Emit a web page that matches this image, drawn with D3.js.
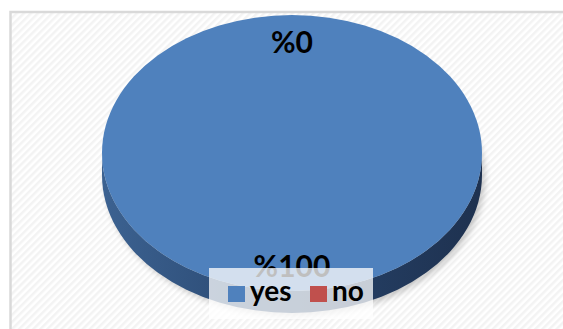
<!DOCTYPE html>
<html>
<head>
<meta charset="utf-8">
<script src="https://cdn.jsdelivr.net/npm/d3@7"></script>
<style>
  html, body { margin: 0; padding: 0; background: #fff; }
  svg { display: block; }
</style>
</head>
<body>
<svg id="chart" width="563" height="329"></svg>
<script>
var categories = ["yes", "no"],
    values = [100, 0],
    labels = ["%100", "%0"],
    colors = ["#4f81bd", "#c0504d"];

var svg = d3.select("#chart"),
    cx = 292, cy = 153,
    rx = 190, ry = 138,
    depth = 22;

// background pattern (diagonal stripes)
var defs = svg.append("defs");
var pat = defs.append("pattern")
    .attr("id", "stripes")
    .attr("width", 5).attr("height", 5)
    .attr("patternUnits", "userSpaceOnUse")
    .attr("patternTransform", "rotate(45)");
pat.append("rect").attr("width", 5).attr("height", 5).attr("fill", "#ffffff");
pat.append("rect").attr("width", 2.5).attr("height", 5).attr("fill", "#f3f3f3");

var sideGrad = defs.append("linearGradient").attr("id", "side")
    .attr("x1", "0").attr("x2", "1").attr("y1", "0").attr("y2", "0");
sideGrad.append("stop").attr("offset", "0").attr("stop-color", "#3c6291");
sideGrad.append("stop").attr("offset", "0.5").attr("stop-color", "#27446c");
sideGrad.append("stop").attr("offset", "1").attr("stop-color", "#1e314f");

defs.append("filter").attr("id", "blur")
    .attr("x", "-20%").attr("y", "-20%").attr("width", "140%").attr("height", "140%")
  .append("feGaussianBlur").attr("stdDeviation", 3);

// chart frame
svg.append("rect")
    .attr("x", 10.5).attr("y", 12)
    .attr("width", 570).attr("height", 330)
    .attr("fill", "url(#stripes)")
    .attr("stroke", "#d9d9d9").attr("stroke-width", 2.5);

// soft shadow under the pie
svg.append("ellipse")
    .attr("cx", cx + 3).attr("cy", cy + depth + 3)
    .attr("rx", rx).attr("ry", ry)
    .attr("fill", "#000").attr("opacity", 0.2)
    .attr("filter", "url(#blur)");

// side of the 3d pie
var p = d3.path();
p.moveTo(cx - rx, cy);
p.lineTo(cx - rx, cy + depth);
var side = p.toString() +
    "A" + rx + "," + ry + " 0 0 0 " + (cx + rx) + "," + (cy + depth) +
    "L" + (cx + rx) + "," + cy +
    "A" + rx + "," + ry + " 0 0 1 " + (cx - rx) + "," + cy + "Z";
svg.append("path").attr("d", side).attr("fill", "url(#side)");

// top face
var pie = d3.pie().sort(null).value(function(d){ return d; });
var arcs = pie(values);
var arc = d3.arc().innerRadius(0).outerRadius(rx);
var labelArc = d3.arc().innerRadius(rx * 0.81).outerRadius(rx * 0.81);

var face = svg.append("g")
    .attr("transform", "translate(" + cx + "," + cy + ") scale(1," + (ry / rx) + ")");
face.selectAll("path")
    .data(arcs)
    .enter()
    .append("path")
    .attr("d", arc)
    .attr("fill", function(d, i){ return colors[i]; });

// data labels
svg.append("g").selectAll("text")
    .data(arcs)
    .enter()
    .append("text")
    .attr("x", function(d){ return cx + labelArc.centroid(d)[0]; })
    .attr("y", function(d){ return cy + labelArc.centroid(d)[1] * ry / rx; })
    .attr("text-anchor", "middle")
    .attr("dominant-baseline", "central")
    .attr("font-family", "Lato, 'Open Sans', sans-serif")
    .attr("font-weight", "bold")
    .attr("font-size", 30)
    .attr("fill", "#000")
    .text(function(d, i){ return labels[i]; });

// legend
var legend = svg.append("g").attr("transform", "translate(209,268)");
legend.append("rect")
    .attr("width", 164).attr("height", 51)
    .attr("fill", "#ffffff").attr("opacity", 0.75);
var item = legend.selectAll("g.item")
    .data(categories)
    .enter()
    .append("g")
    .attr("class", "item")
    .attr("transform", function(d, i){ return "translate(" + (19 + i * 82) + ",18)"; });
item.append("rect")
    .attr("width", 17).attr("height", 16)
    .attr("fill", function(d, i){ return colors[i]; });
item.append("text")
    .attr("x", 22).attr("y", 15)
    .attr("font-family", "Lato, 'Open Sans', sans-serif")
    .attr("font-weight", "bold")
    .attr("font-size", 28)
    .attr("fill", "#000")
    .text(function(d){ return d; });
</script>
</body>
</html>
